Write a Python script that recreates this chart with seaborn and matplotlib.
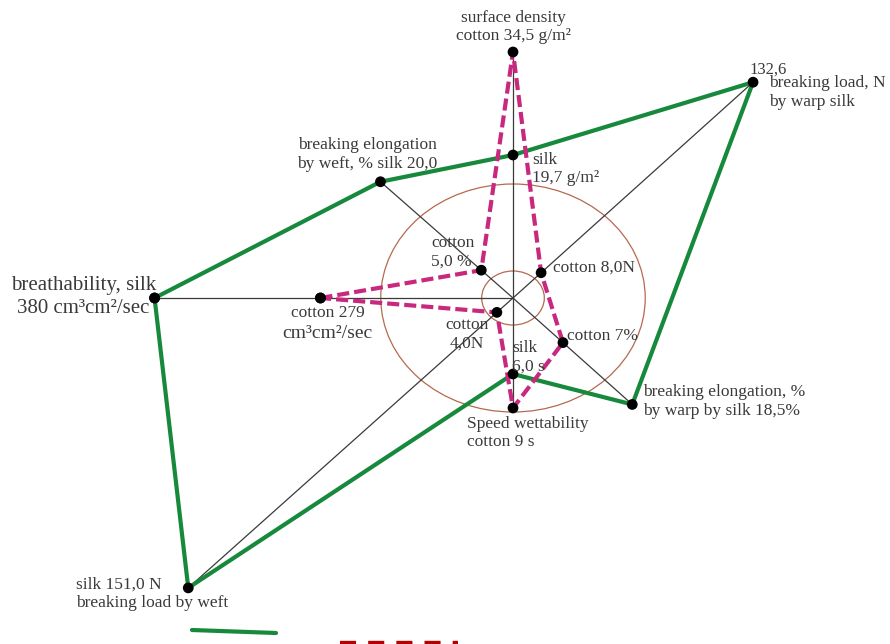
import numpy as np
import pandas as pd
import seaborn as sns
import matplotlib
matplotlib.use("Agg")
import matplotlib.pyplot as plt

# radar axes (clockwise from the left), angle in degrees
axis_names = ["breathability", "elongation weft", "surface density", "load warp",
              "elongation warp", "wettability", "load weft"]
axis_angles = [180, 134.5, 90, 46.2, -46, -90, -134]
# plotted radius of each fabric on each axis
silk_r = [309, 163, 143, 299, 148, 76, 403]
cotton_r = [166, 39, 246, 35, 62, 110, 20]
ring_r = [114, 27]

# labels: (fabric, axis index, text, dx px, dy px, ha, size)
labels = [
    ("silk", 0, "breathability, silk\n380 cm³cm²/sec", -71, 1, "center", 15),
    ("silk", 1, "breaking elongation\nby weft, % silk 20,0", -13, 27, "center", 12.5),
    ("silk", 2, "silk\n19,7 g/m²", 19, -14, "left", 12.5),
    ("cotton", 2, "surface density\ncotton 34,5 g/m²", 0, 25, "center", 12.5),
    ("silk", 3, "132,6", -4, 13, "left", 12),
    ("silk", 3, "breaking load, N\nby warp silk", 16, -10, "left", 12.5),
    ("silk", 4, "breaking elongation, %\nby warp by silk 18,5%", 11, 3, "left", 12.5),
    ("cotton", 5, "Speed wettability\ncotton 9 s", -46, -25, "left", 12.5),
    ("silk", 5, "silk\n6,0 s", -1, 17, "left", 12.5),
    ("silk", 6, "silk 151,0 N\nbreaking load by weft", -112, -6, "left", 12.5),
    ("cotton", 1, "cotton\n5,0 %", -50, 18, "left", 12.5),
    ("cotton", 3, "cotton 8,0N", 12, 5, "left", 12.5),
    ("cotton", 4, "cotton 7%", 4, 7, "left", 12.5),
    ("cotton", 6, "cotton\n4,0N", -30, -22, "center", 12.5),
    ("cotton", 0, "cotton 279", 7, -15, "center", 12.5),
    ("cotton", 0, "cm³cm²/sec", 7, -35, "center", 14),
]

sns.set_theme(style="white")
plt.rcParams["font.family"] = ["Liberation Serif", "DejaVu Serif"]

theta = np.deg2rad(axis_angles)
radii = {"silk": np.array(silk_r), "cotton": np.array(cotton_r)}
pts = {k: (v * np.cos(theta), v * np.sin(theta)) for k, v in radii.items()}

rows = []
for fabric in ["silk", "cotton"]:
    xs, ys = pts[fabric]
    for i in list(range(len(axis_names))) + [0]:
        rows.append({"fabric": fabric, "axis": axis_names[i], "x": xs[i], "y": ys[i]})
df = pd.DataFrame(rows)

fig = plt.figure(figsize=(8.9, 6.44), dpi=100)
ax = fig.add_axes([0, 0, 1, 1])
ax.axis("off")

# rings
for r in ring_r:
    ax.add_patch(plt.Circle((0, 0), r, fill=False, ec="#b5694f", lw=0.9, zorder=1))

# axis spokes
rmax = np.maximum(radii["silk"], radii["cotton"])
for a, r in zip(theta, rmax):
    ax.plot([0, r * np.cos(a)], [0, r * np.sin(a)], color="#3a3a3a", lw=0.9, zorder=2)

sns.lineplot(data=df, x="x", y="y", hue="fabric", style="fabric", sort=False,
             estimator=None, palette={"silk": "#17893d", "cotton": "#c8287e"},
             dashes={"silk": "", "cotton": (2.9, 1.2)}, lw=3, legend=False,
             ax=ax, zorder=3)
sns.scatterplot(data=df, x="x", y="y", color="black", s=60, edgecolor="none",
                legend=False, ax=ax, zorder=5)
ax.set_xlim(-513 / 1.16, (890 - 513) / 1.16)
ax.set_ylim(298 - 644, 298)

for fabric, i, txt, dx, dy, ha, size in labels:
    xs, ys = pts[fabric]
    ax.annotate(txt, (xs[i], ys[i]), xytext=(dx, dy), textcoords="offset pixels",
                ha=ha, va="center", fontsize=size, color="#3a3a3a",
                linespacing=1.25, zorder=6)

# legend keys (cut off at the bottom edge)
ax.plot([192 / 890, 276 / 890], [1 - 630 / 644, 1 - 633 / 644], transform=ax.transAxes,
        color="#17893d", lw=3, clip_on=False)
ax.plot([340 / 890, 458 / 890], [1 - 644.5 / 644, 1 - 644.5 / 644], transform=ax.transAxes,
        color="#b80000", lw=6, dashes=(1.93, 1.45), clip_on=False)

fig.savefig("out.png", dpi=100)
